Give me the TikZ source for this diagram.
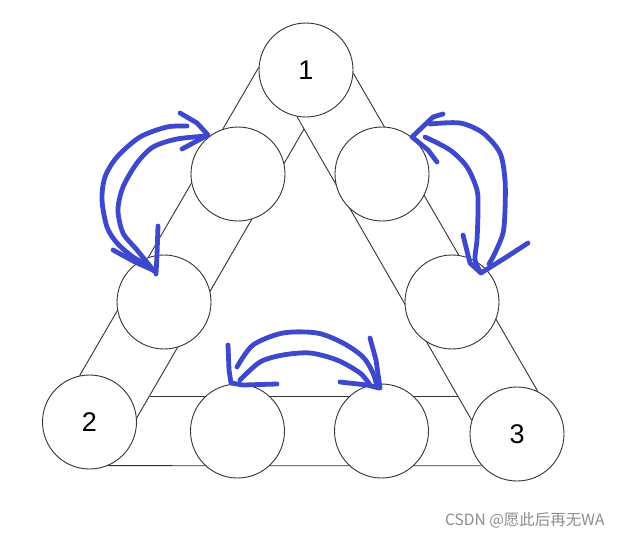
\documentclass[tikz,border=0pt]{standalone}
\usepackage{fontspec}
\setmainfont{Liberation Sans}
\newfontfamily\cjk{Noto Sans CJK SC}
\usepackage{tikz}
\definecolor{pen}{RGB}{62,72,204}

\begin{document}
\begin{tikzpicture}[x=1pt,y=-1pt,
  ball/.style={circle,draw=black!80,line width=0.9pt,fill=white,minimum size=94pt,inner sep=0pt,font=\fontsize{27}{31}\selectfont},
  rod/.style={draw=black!80,line width=0.9pt},
  ink/.style={draw=pen,line width=4.8pt,line cap=round,line join=round}]
  \useasboundingbox (0,0) rectangle (623,536);

  % corner balls
  \node[ball] (n1) at (306,70) {1};
  \node[ball] (n2) at (89.5,422) {2};
  \node[ball] (n3) at (517,434) {3};

  % frame: outer and inner edges
  \coordinate (apex) at (304,129);
  \coordinate (inl) at (150,396);
  \coordinate (inr) at (458,396);
  \draw[rod] (n1.177) -- (n2.102);
  \draw[rod] (apex) -- (n2.5);
  \draw[rod] (n1.356) -- (n3.64);
  \draw[rod] (n1.259) -- (n3.163);
  \draw[rod] (inl) -- (inr);
  \draw[rod] (n2.293) -- (n3.222);

  % middle balls
  \node[ball] (ul) at (238,174) {};
  \node[ball] (ur) at (382,174) {};
  \node[ball] (ml) at (164,302) {};
  \node[ball] (mr) at (452,302) {};
  \node[ball] (bl) at (237.5,431) {};
  \node[ball] (br) at (381.5,431) {};

  % left swap
  \draw[ink] plot[smooth] coordinates {(187,126) (167,127) (140,137) (117,157) (105,177) (102,200) (107,227) (117,243) (133,257) (148,265)};
  \draw[ink] plot[smooth] coordinates {(207,136) (177,139) (153,147) (137,163) (123,187) (118,210) (123,233) (137,250) (154,271)};
  \draw[ink] (180,113) -- (197,123) -- (208,135) -- (182,149);
  \draw[ink] (158,226) -- (157,255) -- (156,274);
  \draw[ink] (113,250) -- (135,262) -- (155,271);

  % right swap
  \draw[ink] (443,114) -- (433,117) -- (412,137) -- (428,150) -- (437,162);
  \draw[ink] plot[smooth] coordinates {(430,124) (460,123) (483,133) (500,153) (505,180) (505,210) (503,233) (495,253) (489,264)};
  \draw[ink] plot[smooth] coordinates {(425,137) (450,150) (467,167) (477,190) (478,210) (477,240) (475,260) (481,273)};
  \draw[ink] (528,243) -- (505,258) -- (481,273) -- (470,263) -- (463,235);

  % bottom swap
  \draw[ink] plot[smooth] coordinates {(237,367) (253,345) (283,333) (317,333) (343,343) (363,357) (373,373) (377,387)};
  \draw[ink] plot[smooth] coordinates {(240,380) (260,362) (283,355) (310,353) (337,360) (360,373) (370,385)};
  \draw[ink] (228,345) -- (229,370) -- (231,383) -- (243,385) -- (277,384);
  \draw[ink] (370,338) -- (376,360) -- (380,388);
  \draw[ink] (340,382) -- (367,385) -- (379,388);

  % watermark
  \node[anchor=west,text=black!45,font=\cjk\fontsize{15.5}{18}\selectfont,inner sep=0pt] (mark) at (445,520) {CSDN @愿此后再无WA};
\end{tikzpicture}
\end{document}
